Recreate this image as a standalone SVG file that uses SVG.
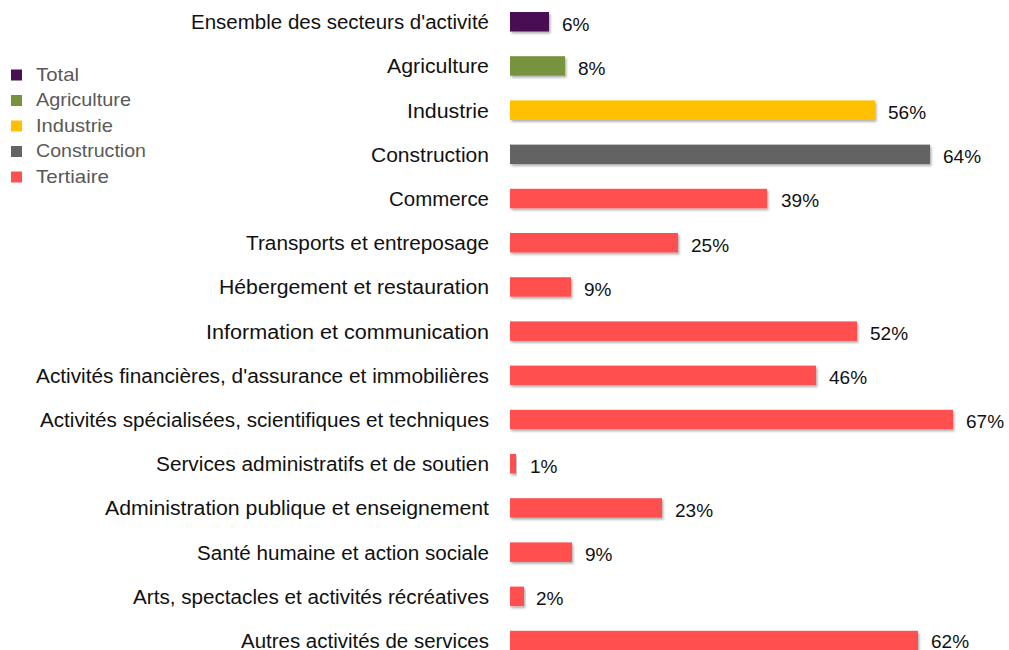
<svg xmlns="http://www.w3.org/2000/svg" width="1009" height="650" viewBox="0 0 1009 650">
  <style>
    .lbl { font-family: "Liberation Sans", Arial, sans-serif; font-size: 20px; fill: #111; text-anchor: end; }
    .pct { font-family: "Liberation Sans", Arial, sans-serif; font-size: 19px; fill: #111; }
    .leg { font-family: "Liberation Sans", Arial, sans-serif; font-size: 19px; fill: #595959; }
    .bar { filter: url(#sh); }
    .tot { fill: #4A1052; }
    .agr { fill: #77933C; }
    .ind { fill: #FFC000; }
    .con { fill: #646464; }
    .ter { fill: #FF5050; }
  </style>
  <defs>
    <filter id="sh" x="-5%" y="-30%" width="115%" height="170%">
      <feDropShadow dx="1.5" dy="2" stdDeviation="1.3" flood-color="#000" flood-opacity="0.3"/>
    </filter>
  </defs>
  <rect width="1009" height="650" fill="#fff"/>

  <g id="legend">
    <rect class="tot" x="11" y="69.5" width="11" height="11"/>
    <text class="leg" x="36" y="80.5" textLength="43" lengthAdjust="spacingAndGlyphs">Total</text>
    <rect class="agr" x="11" y="95" width="11" height="11"/>
    <text class="leg" x="36" y="106" textLength="95" lengthAdjust="spacingAndGlyphs">Agriculture</text>
    <rect class="ind" x="11" y="120.5" width="11" height="11"/>
    <text class="leg" x="36" y="131.5" textLength="77" lengthAdjust="spacingAndGlyphs">Industrie</text>
    <rect class="con" x="11" y="146" width="11" height="11"/>
    <text class="leg" x="36" y="157" textLength="110" lengthAdjust="spacingAndGlyphs">Construction</text>
    <rect class="ter" x="11" y="171.5" width="11" height="11"/>
    <text class="leg" x="36" y="182.5" textLength="73" lengthAdjust="spacingAndGlyphs">Tertiaire</text>
  </g>

  <g id="row-total">
    <text class="lbl" x="489" y="29.2" textLength="298" lengthAdjust="spacingAndGlyphs">Ensemble des secteurs d'activité</text>
    <rect class="bar tot" x="510" y="12" width="39" height="19.5"/>
    <text class="pct" x="562" y="30.5">6%</text>
  </g>
  <g id="row-agriculture">
    <text class="lbl" x="489" y="73.4" textLength="102" lengthAdjust="spacingAndGlyphs">Agriculture</text>
    <rect class="bar agr" x="510" y="56.2" width="55" height="19.5"/>
    <text class="pct" x="578" y="74.7">8%</text>
  </g>
  <g id="row-industrie">
    <text class="lbl" x="489" y="117.6" textLength="82" lengthAdjust="spacingAndGlyphs">Industrie</text>
    <rect class="bar ind" x="510" y="100.4" width="365" height="19.5"/>
    <text class="pct" x="888" y="118.9">56%</text>
  </g>
  <g id="row-construction">
    <text class="lbl" x="489" y="161.8" textLength="118" lengthAdjust="spacingAndGlyphs">Construction</text>
    <rect class="bar con" x="510" y="144.6" width="420" height="19.5"/>
    <text class="pct" x="943" y="163.1">64%</text>
  </g>
  <g id="row-commerce">
    <text class="lbl" x="489" y="206" textLength="100" lengthAdjust="spacingAndGlyphs">Commerce</text>
    <rect class="bar ter" x="510" y="188.8" width="257" height="19.5"/>
    <text class="pct" x="781" y="207.3">39%</text>
  </g>
  <g id="row-transports">
    <text class="lbl" x="489" y="250.2" textLength="243" lengthAdjust="spacingAndGlyphs">Transports et entreposage</text>
    <rect class="bar ter" x="510" y="233" width="168" height="19.5"/>
    <text class="pct" x="691" y="251.5">25%</text>
  </g>
  <g id="row-hebergement">
    <text class="lbl" x="489" y="294.4" textLength="270" lengthAdjust="spacingAndGlyphs">Hébergement et restauration</text>
    <rect class="bar ter" x="510" y="277.2" width="61" height="19.5"/>
    <text class="pct" x="584" y="295.7">9%</text>
  </g>
  <g id="row-information">
    <text class="lbl" x="489" y="338.6" textLength="283" lengthAdjust="spacingAndGlyphs">Information et communication</text>
    <rect class="bar ter" x="510" y="321.4" width="347" height="19.5"/>
    <text class="pct" x="870" y="339.9">52%</text>
  </g>
  <g id="row-financieres">
    <text class="lbl" x="489" y="382.8" textLength="453" lengthAdjust="spacingAndGlyphs">Activités financières, d'assurance et immobilières</text>
    <rect class="bar ter" x="510" y="365.6" width="306" height="19.5"/>
    <text class="pct" x="829" y="384.1">46%</text>
  </g>
  <g id="row-specialisees">
    <text class="lbl" x="489" y="427" textLength="449" lengthAdjust="spacingAndGlyphs">Activités spécialisées, scientifiques et techniques</text>
    <rect class="bar ter" x="510" y="409.8" width="443" height="19.5"/>
    <text class="pct" x="966" y="428.3">67%</text>
  </g>
  <g id="row-services-admin">
    <text class="lbl" x="489" y="471.2" textLength="333" lengthAdjust="spacingAndGlyphs">Services administratifs et de soutien</text>
    <rect class="bar ter" x="510" y="454" width="6" height="19.5"/>
    <text class="pct" x="530" y="472.5">1%</text>
  </g>
  <g id="row-admin-publique">
    <text class="lbl" x="489" y="515.4" textLength="384" lengthAdjust="spacingAndGlyphs">Administration publique et enseignement</text>
    <rect class="bar ter" x="510" y="498.2" width="152" height="19.5"/>
    <text class="pct" x="675" y="516.7">23%</text>
  </g>
  <g id="row-sante">
    <text class="lbl" x="489" y="559.6" textLength="292" lengthAdjust="spacingAndGlyphs">Santé humaine et action sociale</text>
    <rect class="bar ter" x="510" y="542.4" width="62" height="19.5"/>
    <text class="pct" x="585" y="560.9">9%</text>
  </g>
  <g id="row-arts">
    <text class="lbl" x="489" y="603.8" textLength="356" lengthAdjust="spacingAndGlyphs">Arts, spectacles et activités récréatives</text>
    <rect class="bar ter" x="510" y="586.6" width="14" height="19.5"/>
    <text class="pct" x="536" y="605.1">2%</text>
  </g>
  <g id="row-autres">
    <text class="lbl" x="489" y="647.5" textLength="248" lengthAdjust="spacingAndGlyphs">Autres activités de services</text>
    <rect class="bar ter" x="510" y="630.8" width="408" height="19.5"/>
    <text class="pct" x="931" y="647.5">62%</text>
  </g>
</svg>
